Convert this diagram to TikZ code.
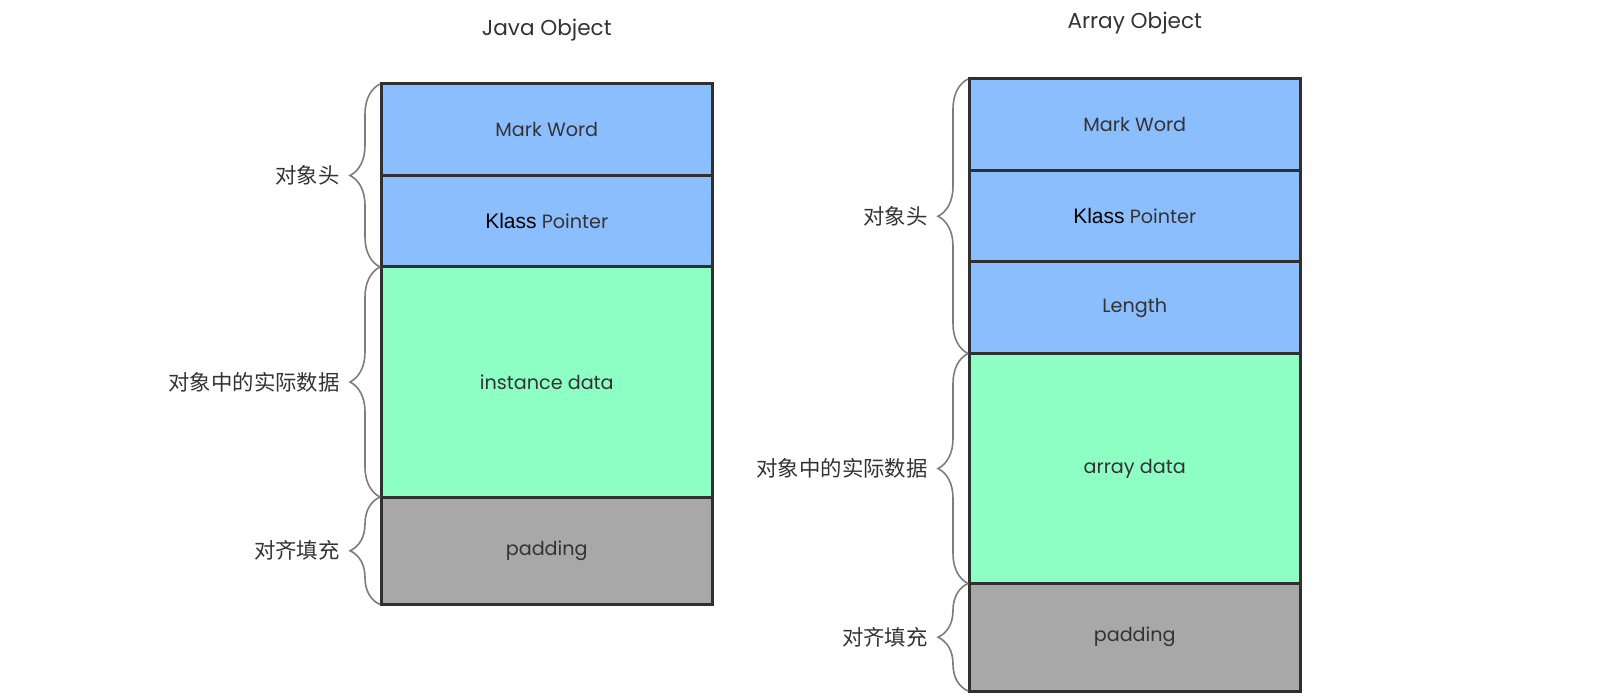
\documentclass[tikz,border=0pt]{standalone}
\usepackage{fontspec}
\setmainfont{Poppins}
\newfontfamily\cjkfont{Noto Sans CJK SC}
\newfontfamily\klassfont{Liberation Sans}
\usetikzlibrary{positioning,calc,decorations.pathreplacing}

\definecolor{hdblue}{RGB}{138,190,255}
\definecolor{datagreen}{RGB}{142,255,196}
\definecolor{padgray}{RGB}{168,168,168}
\definecolor{edgegray}{RGB}{48,48,48}
\definecolor{bracegray}{RGB}{125,125,125}
\definecolor{txtgray}{RGB}{51,51,51}

\tikzset{
  cell/.style={draw=edgegray, line width=1.5pt, rectangle, outer sep=0pt, inner sep=0pt,
    minimum width=165.75pt, text=txtgray, font=\fontsize{9.6}{11}\selectfont},
  hdcell/.style={cell, fill=hdblue, minimum height=45.75pt},
  datacell/.style={cell, fill=datagreen, minimum height=115pt},
  padcell/.style={cell, fill=padgray, minimum height=53.75pt},
  objbrace/.style={draw=bracegray, line width=0.8pt, decorate,
    decoration={brace, amplitude=15pt, raise=0.5pt}},
  sidelabel/.style={inner sep=0pt, text=txtgray, font=\cjkfont\fontsize{10.7}{12}\selectfont},
  objtitle/.style={inner sep=0pt, text=txtgray, font=\fontsize{10.8}{12}\selectfont}
}

\newcommand{\klass}{{\klassfont\fontsize{10.5}{12}\selectfont\color{black}Klass}}

\begin{document}
\begin{tikzpicture}[x=0.5pt,y=-0.5pt]
\useasboundingbox (0,0) rectangle (1600,700);

% Java Object
\node[hdcell, anchor=north west] (jmark) at (381,84) {Mark Word};
\node[hdcell, below=0pt of jmark] (jklass) {\klass{} Pointer};
\node[datacell, below=0pt of jklass] (jdata) {instance data};
\node[padcell, below=0pt of jdata] (jpad) {padding};
\node[objtitle, above=21pt of jmark] (jtitle) {Java Object};

\draw[objbrace] (jklass.south west) -- (jmark.north west);
\draw[objbrace] (jdata.south west) -- (jdata.north west);
\draw[objbrace] (jpad.south west) -- (jpad.north west);

\node[sidelabel, left=20.5pt of $(jmark.north west)!0.5!(jklass.south west)$] (jhead) {对象头};
\node[sidelabel, left=20.5pt of jdata.west] (jbody) {对象中的实际数据};
\node[sidelabel, left=20.5pt of jpad.west] (jfill) {对齐填充};

% Array Object
\node[hdcell, anchor=north west] (amark) at (969,79) {Mark Word};
\node[hdcell, below=0pt of amark] (aklass) {\klass{} Pointer};
\node[hdcell, below=0pt of aklass] (alen) {Length};
\node[datacell, below=0pt of alen] (adata) {array data};
\node[padcell, below=0pt of adata] (apad) {padding};
\node[objtitle, above=22pt of amark] (atitle) {Array Object};

\draw[objbrace] (alen.south west) -- (amark.north west);
\draw[objbrace] (adata.south west) -- (adata.north west);
\draw[objbrace] (apad.south west) -- (apad.north west);

\node[sidelabel, left=20.5pt of aklass.west] (ahead) {对象头};
\node[sidelabel, left=20.5pt of adata.west] (abody) {对象中的实际数据};
\node[sidelabel, left=20.5pt of apad.west] (afill) {对齐填充};

\end{tikzpicture}
\end{document}
